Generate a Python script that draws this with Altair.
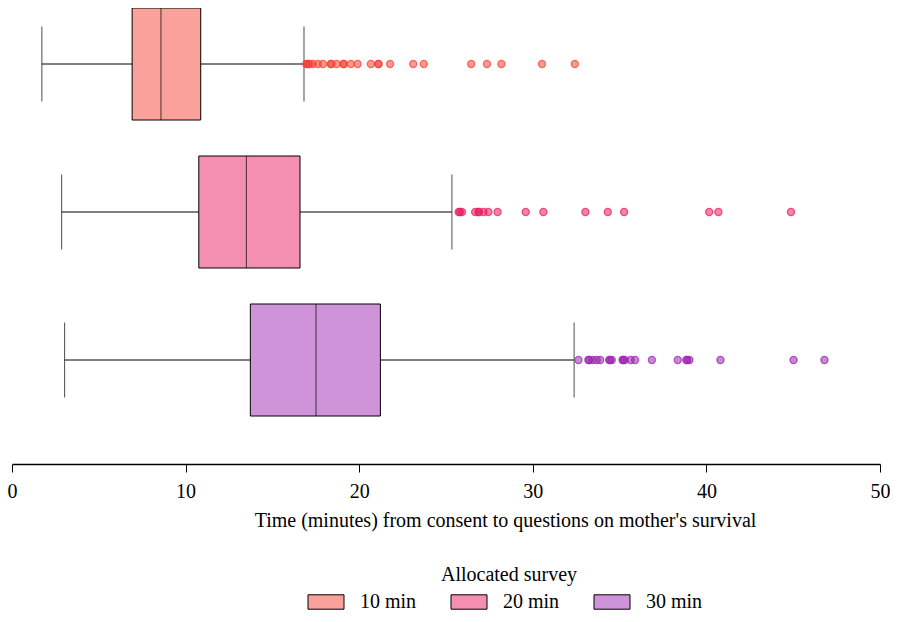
import altair as alt
import pandas as pd

groups = ["10 min", "20 min", "30 min"]
whisker_lo = [1.72, 2.86, 3.03]
q1 = [6.92, 10.76, 13.73]
median = [8.58, 13.50, 17.51]
q3 = [10.87, 16.59, 21.22]
whisker_hi = [16.82, 25.34, 32.38]

box_fill = ["#FAA19B", "#F48FB1", "#CE93D8"]
point_colors = ["#F44336", "#E91E63", "#9C27B0"]

out_10 = [16.95, 17.0, 17.05, 17.15, 17.33, 17.62, 17.91, 18.35, 18.4, 18.71, 19.09, 19.12,
          19.52, 19.91, 20.67, 21.09, 21.12, 21.78, 23.11, 23.72, 26.45, 27.36, 28.19, 30.53, 32.42]
out_20 = [25.73, 25.8, 25.92, 26.68, 26.87, 26.9, 27.16, 27.44, 27.97, 29.59, 30.61, 33.03,
          34.32, 35.26, 40.16, 40.69, 44.87]
out_30 = [32.63, 33.2, 33.25, 33.45, 33.68, 33.88, 34.4, 34.45, 34.55, 35.17, 35.2, 35.3, 35.64,
          35.89, 36.86, 38.35, 38.84, 38.9, 39.02, 40.81, 45.02, 46.8]

stats = pd.DataFrame({"group": groups, "lo": whisker_lo, "q1": q1, "med": median,
                      "q3": q3, "hi": whisker_hi})
rows = []
for g, vals, c in zip(groups, [out_10, out_20, out_30], point_colors):
    for v in vals:
        rows.append({"group": g, "value": v, "pcolor": c})
outliers = pd.DataFrame(rows)

FONT = "Times New Roman, Liberation Serif, serif"
FS = 20
xscale = alt.Scale(domain=[0, 50], nice=False, zero=False)
yenc = alt.Y("group:N", scale=alt.Scale(domain=groups, range=[-18, 426],
                                        paddingInner=0, paddingOuter=0), axis=None)

base = alt.Chart(stats)

xaxis = alt.Axis(values=[0, 10, 20, 30, 40, 50], grid=False, domainColor="black",
                 domainWidth=1.5, tickColor="black", tickSize=8, labelFont=FONT,
                 labelFontSize=FS, labelColor="black", labelPadding=9, labelFlush=False,
                 title="Time (minutes) from consent to questions on mother's survival",
                 titleFont=FONT, titleFontSize=FS, titleFontWeight="normal",
                 titleColor="black", titlePadding=9, titleX=493)

whisk_left = base.mark_rule(color="black", strokeWidth=1).encode(
    x=alt.X("lo:Q", scale=xscale, axis=xaxis), x2="q1:Q", y=yenc)
whisk_right = base.mark_rule(color="black", strokeWidth=1).encode(
    x=alt.X("q3:Q", scale=xscale), x2="hi:Q", y=yenc)
cap_lo = base.mark_tick(color="black", thickness=1, size=75).encode(
    x=alt.X("lo:Q", scale=xscale), y=yenc)
cap_hi = base.mark_tick(color="black", thickness=1, size=75).encode(
    x=alt.X("hi:Q", scale=xscale), y=yenc)

legend = alt.Legend(title="Allocated survey", orient="none", direction="horizontal",
                    legendX=304, legendY=557, titleFont=FONT, titleFontSize=FS,
                    titleFontWeight="normal", titleColor="black", titleAnchor="middle",
                    titleAlign="center", titlePadding=7,
                    labelFont=FONT, labelFontSize=FS, labelColor="black",
                    symbolType="M-2,-0.8H2V0.8H-2Z", symbolSize=324,
                    symbolStrokeColor="black", symbolStrokeWidth=1, labelOffset=24,
                    columnPadding=32, symbolOpacity=1)

box = base.mark_bar(size=112, stroke="black", strokeWidth=1, opacity=1).encode(
    x=alt.X("q1:Q", scale=xscale), x2="q3:Q", y=yenc,
    fill=alt.Fill("group:N", scale=alt.Scale(domain=groups, range=box_fill), legend=legend))
med = base.mark_tick(color="black", thickness=1, size=112).encode(
    x=alt.X("med:Q", scale=xscale), y=yenc)

pts = alt.Chart(outliers).mark_point(filled=True, size=50, fillOpacity=0.55,
                                     strokeOpacity=0.75, strokeWidth=1.3).encode(
    x=alt.X("value:Q", scale=xscale), y=yenc,
    color=alt.Color("pcolor:N", scale=None, legend=None),
    stroke=alt.Stroke("pcolor:N", scale=None, legend=None))

chart = alt.layer(whisk_left, whisk_right, cap_lo, cap_hi, box, med, pts).properties(
    width=868, height=456,
    autosize=alt.AutoSizeParams(type="none"),
    padding={"top": 0, "left": 4, "right": 10, "bottom": 150},
).configure(font=FONT).configure_view(stroke=None)

chart.save("out.html", embed_options={"renderer": "svg", "actions": False})
